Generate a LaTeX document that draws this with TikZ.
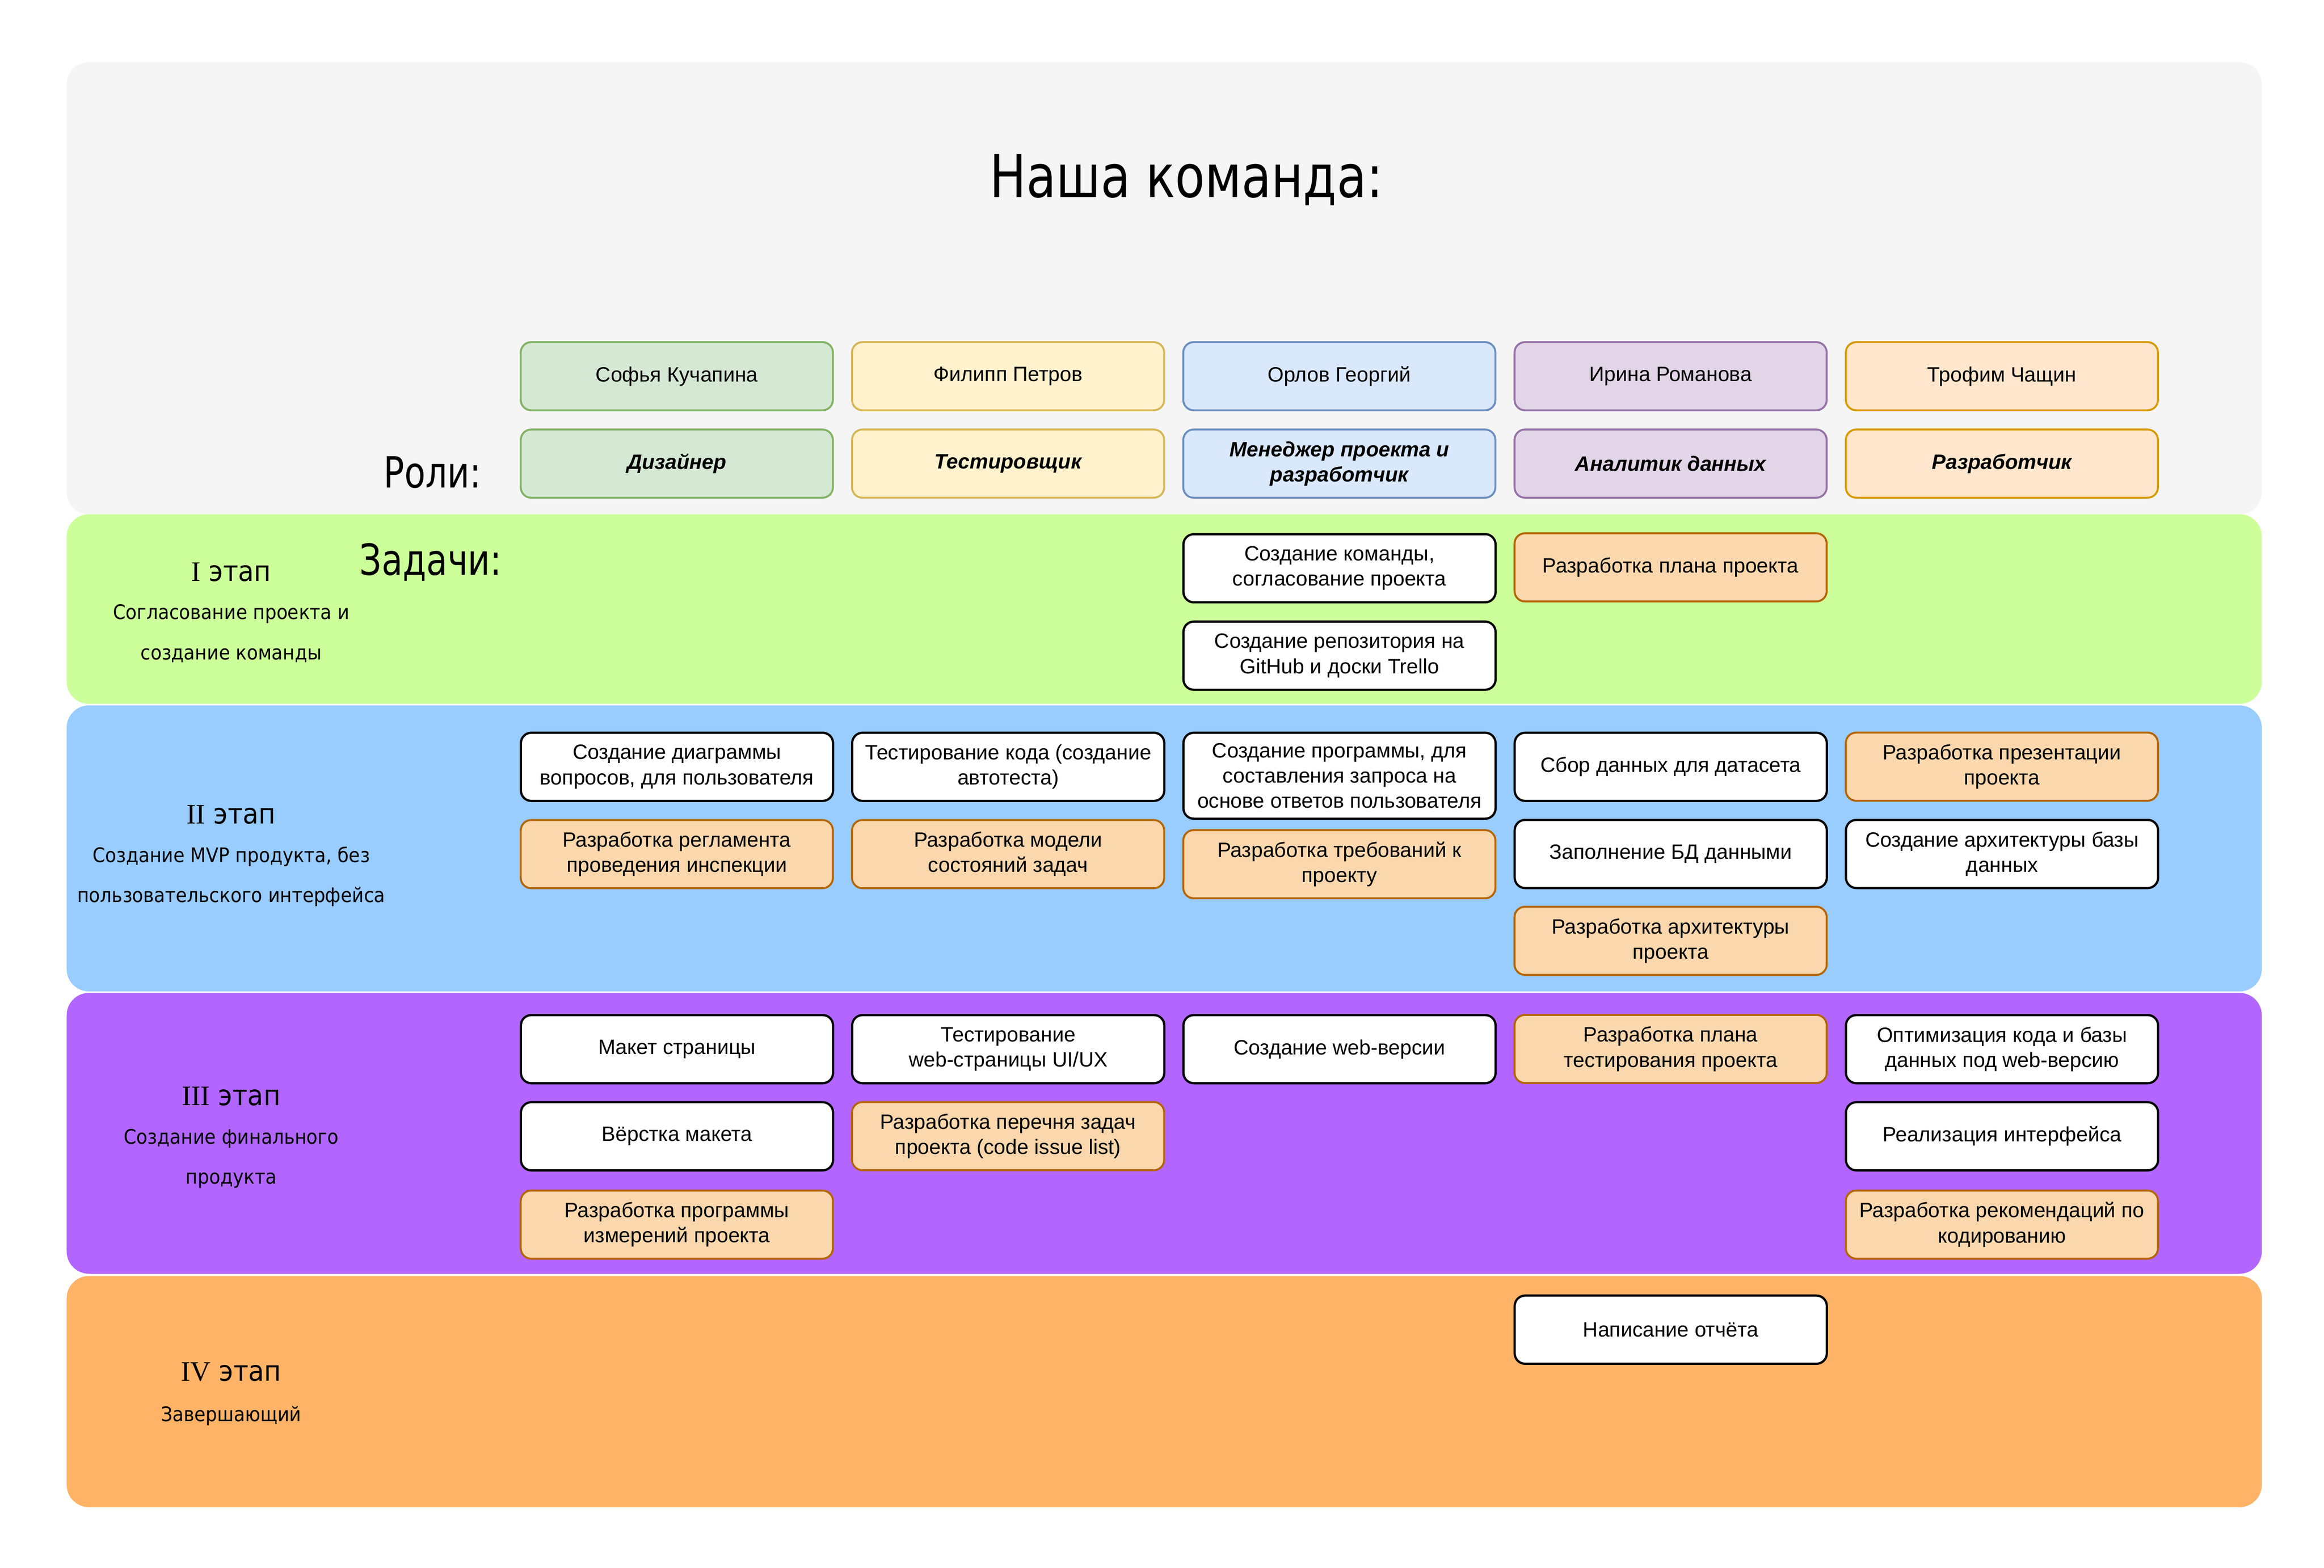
\documentclass[tikz,border=0pt]{standalone}
\usepackage{fontspec}
\setmainfont{Liberation Sans}
\newfontfamily\titlefont[FakeStretch=0.82]{DejaVu Sans}
\newfontfamily\labelfont[FakeStretch=0.8]{DejaVu Sans}
\newfontfamily\descfont[FakeStretch=0.91]{DejaVu Sans}
\newfontfamily\stagefont[FakeStretch=0.92]{DejaVu Sans}
\newfontfamily\romanfont{Liberation Serif}
\definecolor{bandgray}{HTML}{F5F5F5}
\definecolor{bandgreen}{HTML}{CCFF99}
\definecolor{bandblue}{HTML}{99CCFF}
\definecolor{bandpurple}{HTML}{B266FF}
\definecolor{bandorange}{HTML}{FFB366}
\definecolor{gfill}{HTML}{D5E8D4}\definecolor{gline}{HTML}{82B366}
\definecolor{yfill}{HTML}{FFF2CC}\definecolor{yline}{HTML}{D6B656}
\definecolor{bfill}{HTML}{DAE8FC}\definecolor{bline}{HTML}{6C8EBF}
\definecolor{pfill}{HTML}{E1D5E7}\definecolor{pline}{HTML}{9673A6}
\definecolor{ofill}{HTML}{FFE6CC}\definecolor{oline}{HTML}{D79B00}
\definecolor{tfill}{HTML}{FAD7AC}\definecolor{tline}{HTML}{B46504}
\tikzset{
  band/.style={rounded corners=15pt},
  cell/.style={rounded corners=7pt, anchor=north west, minimum width=210.6pt,
    minimum height=46pt, align=center, inner sep=2pt,
    font=\fontsize{14}{17}\selectfont},
  person/.style={cell, line width=1.3pt},
  role/.style={cell, line width=1.3pt, font=\fontsize{14}{17}\selectfont\bfseries\itshape},
  task/.style={cell, draw=black, fill=white, line width=1.5pt},
  otask/.style={cell, draw=tline, fill=tfill, line width=1.3pt},
  stagehead/.style={anchor=base, inner sep=0pt, font=\stagefont\fontsize{19}{22}\selectfont},
  stagedesc/.style={anchor=base, inner sep=0pt, font=\descfont\fontsize{13.5}{16}\selectfont},
  biglabel/.style={inner sep=0pt, font=\labelfont\fontsize{29}{34}\selectfont}
}
\begin{document}
\begin{tikzpicture}[x=1pt,y=-1pt]
\useasboundingbox (0,0) rectangle (1568,1057.86);
% bands
\fill[bandgray, band] (45,42) rectangle (1526,347);
\fill[bandgreen, band] (45,347) rectangle (1526,475);
\fill[bandblue, band] (45,476) rectangle (1526,669);
\fill[bandpurple, band] (45,670) rectangle (1526,859.5);
\fill[bandorange, band] (45,861) rectangle (1526,1017);
% title and labels
\node[anchor=base, inner sep=0pt, font=\titlefont\fontsize{40}{46}\selectfont] (title) at (800.5,133) {Наша команда:};
\node[biglabel, anchor=base east] (roli) at (325,329) {Роли:};
\node[biglabel, anchor=base west] (zadachi) at (242.5,388) {Задачи:};
% people
\node[person, draw=gline, fill=gfill] (p1) at (350.7,230.2) {Софья Кучапина};
\node[person, draw=yline, fill=yfill] (p2) at (574.2,230.2) {Филипп Петров};
\node[person, draw=bline, fill=bfill] (p3) at (797.7,230.2) {Орлов Георгий};
\node[person, draw=pline, fill=pfill] (p4) at (1021.2,230.2) {Ирина Романова};
\node[person, draw=oline, fill=ofill] (p5) at (1244.7,230.2) {Трофим Чащин};
% roles
\node[role, draw=gline, fill=gfill] (r1) at (350.7,289.2) {Дизайнер};
\node[role, draw=yline, fill=yfill] (r2) at (574.2,289.2) {Тестировщик};
\node[role, draw=bline, fill=bfill] (r3) at (797.7,289.2) {Менеджер проекта и\\разработчик};
\node[role, draw=pline, fill=pfill] (r4) at (1021.2,289.2) {Аналитик данных};
\node[role, draw=oline, fill=ofill] (r5) at (1244.7,289.2) {Разработчик};
% stage labels
\node[stagehead] (s1h) at (156,392) {{\romanfont I} этап};
\node[stagedesc] (s1a) at (156,418) {Согласование проекта и};
\node[stagedesc] (s1b) at (156,445) {создание команды};
\node[stagehead] (s2h) at (156,556) {{\romanfont II} этап};
\node[stagedesc] (s2a) at (156,582) {Создание MVP продукта, без};
\node[stagedesc] (s2b) at (156,609) {пользовательского интерфейса};
\node[stagehead] (s3h) at (156,746) {{\romanfont III} этап};
\node[stagedesc] (s3a) at (156,772) {Создание финального};
\node[stagedesc] (s3b) at (156,799) {продукта};
\node[stagehead] (s4h) at (156,932) {{\romanfont IV} этап};
\node[stagedesc] (s4a) at (156,959) {Завершающий};
% stage I tasks
\node[task] (a1) at (797.7,359.7) {Создание команды,\\согласование проекта};
\node[task] (a2) at (797.7,418.7) {Создание репозитория на\\GitHub и доски Trello};
\node[otask] (a3) at (1021.2,359.2) {Разработка плана проекта};
% stage II tasks
\node[task] (b1) at (350.7,493.7) {Создание диаграммы\\вопросов, для пользователя};
\node[otask] (b2) at (350.7,552.7) {Разработка регламента\\проведения инспекции};
\node[task] (b3) at (574.2,493.7) {Тестирование кода (создание\\автотеста)};
\node[otask] (b4) at (574.2,552.7) {Разработка модели\\состояний задач};
\node[task, minimum height=58pt] (b5) at (797.7,493.7) {Создание программы, для\\составления запроса на\\основе ответов пользователя};
\node[otask] (b6) at (797.7,559.5) {Разработка требований к\\проекту};
\node[task] (b7) at (1021.2,493.7) {Сбор данных для датасета};
\node[task] (b8) at (1021.2,552.5) {Заполнение БД данными};
\node[otask] (b9) at (1021.2,611.2) {Разработка архитектуры\\проекта};
\node[otask] (b10) at (1244.7,493.7) {Разработка презентации\\проекта};
\node[task] (b11) at (1244.7,552.5) {Создание архитектуры базы\\данных};
% stage III tasks
\node[task] (c1) at (350.7,684.2) {Макет страницы};
\node[task] (c2) at (350.7,743) {Вёрстка макета};
\node[otask] (c3) at (350.7,802.7) {Разработка программы\\измерений проекта};
\node[task] (c4) at (574.2,684.2) {Тестирование\\web-страницы UI/UX};
\node[otask] (c5) at (574.2,743) {Разработка перечня задач\\проекта (code issue list)};
\node[task] (c6) at (797.7,684.2) {Создание web-версии};
\node[otask] (c7) at (1021.2,684.2) {Разработка плана\\тестирования проекта};
\node[task] (c8) at (1244.7,684.2) {Оптимизация кода и базы\\данных под web-версию};
\node[task] (c9) at (1244.7,743) {Реализация интерфейса};
\node[otask] (c10) at (1244.7,802.7) {Разработка рекомендаций по\\кодированию};
% stage IV tasks
\node[task] (d1) at (1021.2,873.5) {Написание отчёта};
\end{tikzpicture}
\end{document}
